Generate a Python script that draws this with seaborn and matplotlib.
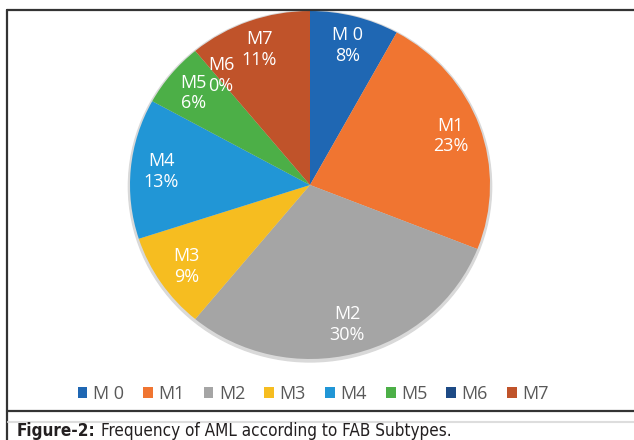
import matplotlib
matplotlib.use("Agg")
import matplotlib.pyplot as plt
from matplotlib.lines import Line2D
from matplotlib.patches import Ellipse
import seaborn as sns

# FAB subtype frequencies (percent of AML cases)
subtypes = ["M 0", "M1", "M2", "M3", "M4", "M5", "M6", "M7"]
percent = [8, 23, 30, 9, 13, 6, 0, 11]
colors = ["#1f67b3", "#f07531", "#a5a5a5", "#f6bd20", "#2196d6",
          "#4caf47", "#1d4a85", "#c0532a"]
caption_bold = "Figure-2:"
caption_rest = "Frequency of AML according to FAB Subtypes."

sns.set_theme(style="white")
plt.rcParams["font.family"] = ["Open Sans", "DejaVu Sans"]

W, H = 634, 440
fig = plt.figure(figsize=(W / 100, H / 100), dpi=100)
fig.patch.set_facecolor("white")

# pie axes: centre ~(310, 185) px, radii ~180 x 174 px
pad = 1.05
rx, ry, cx, cy = 180, 174, 310, 185
ax = fig.add_axes([(cx - rx * pad) / W, (H - cy - ry * pad) / H,
                   2 * rx * pad / W, 2 * ry * pad / H])

labels = [f"{s}\n{p}%" for s, p in zip(subtypes, percent)]
wedges, texts = ax.pie(
    percent, labels=labels, colors=colors, startangle=90, counterclock=False,
    labeldistance=0.83, wedgeprops=dict(linewidth=0),
    textprops=dict(color="white", fontsize=13),
)
for t in texts:
    t.set_ha("center")
    t.set_va("center")
    t.set_multialignment("center")
    t.set_linespacing(1.2)

# the zero-width M6 label sits just right of M5's, as in the source chart
x6, y6 = texts[6].get_position()
texts[6].set_position((x6 + 0.035, y6 - 0.01))
x5, y5 = texts[5].get_position()
texts[5].set_position((x5 - 0.01, y5))

ax.add_patch(Ellipse((0, -0.008), 2.018, 2.018, color="#d9d9d9", zorder=0))
ax.set_aspect("auto")
ax.set_xlim(-pad, pad)
ax.set_ylim(-pad, pad)
ax.axis("off")

fig.legend(wedges, subtypes, loc="center", bbox_to_anchor=(0.494, (H - 394) / H),
           ncol=8, frameon=False, fontsize=13, labelcolor="#595959",
           handlelength=0.55, handleheight=0.55, handletextpad=0.3,
           columnspacing=1.05)

# frame lines
line_kw = dict(transform=fig.transFigure, color="#333333", lw=1.6)
fig.add_artist(Line2D([7 / W, 1], [(H - 10) / H] * 2, **line_kw))
fig.add_artist(Line2D([7 / W, 7 / W], [0, (H - 10) / H], **line_kw))
fig.add_artist(Line2D([7 / W, 1], [(H - 411) / H] * 2, **line_kw))
fig.add_artist(Line2D([8 / W, 1], [(H - 422) / H] * 2,
                      transform=fig.transFigure, color="#dddddd", lw=1.5))

# caption in a condensed face, sized to span roughly 17..450 px
cap_kw = dict(family="DejaVu Sans", fontstretch="condensed", color="#231f20",
              va="baseline")
t1 = fig.text(17 / W, 4 / H, caption_bold, fontweight="bold", fontsize=14, **cap_kw)
t2 = fig.text(0, 4 / H, caption_rest, fontsize=14, **cap_kw)
renderer = fig.canvas.get_renderer()
for _ in range(2):
    b1 = t1.get_window_extent(renderer)
    t2.set_x((b1.x1 + 5) / W)
    b2 = t2.get_window_extent(renderer)
    scale = (450 - 17) / (b2.x1 - b1.x0)
    t1.set_fontsize(t1.get_fontsize() * scale)
    t2.set_fontsize(t2.get_fontsize() * scale)
b1 = t1.get_window_extent(renderer)
t2.set_x((b1.x1 + 5) / W)

fig.savefig("out.png", dpi=100)
